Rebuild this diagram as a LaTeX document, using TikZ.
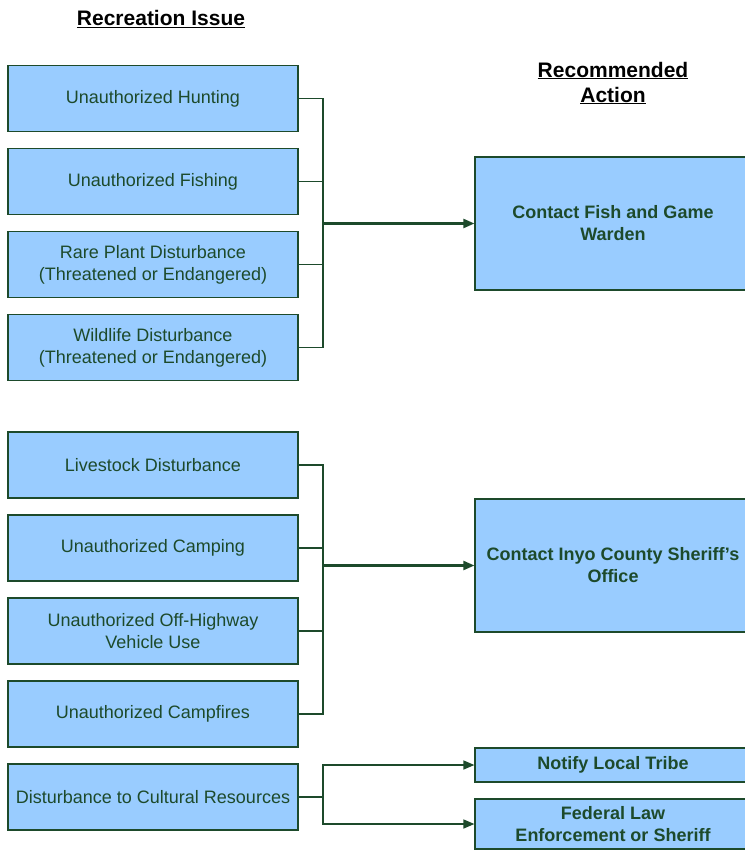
\documentclass[tikz,border=0pt]{standalone}
\usepackage{fontspec}
\setmainfont{Liberation Sans}
\usetikzlibrary{arrows.meta,positioning}
\definecolor{boxfill}{HTML}{99CCFF}
\definecolor{darkgreen}{HTML}{1D4A2B}

\begin{document}
\begin{tikzpicture}[x=1pt, y=1pt, node distance=83pt,
  issue/.style={draw=darkgreen, fill=boxfill, text=darkgreen, line width=1.2pt,
                minimum width=290pt, minimum height=66pt, inner sep=0pt,
                align=center, font=\fontsize{18}{22}\selectfont},
  action/.style={draw=darkgreen, fill=boxfill, text=darkgreen, line width=1.2pt,
                 minimum width=276pt, inner sep=0pt,
                 align=center, font=\fontsize{18}{22}\selectfont\bfseries},
  heading/.style={font=\fontsize{21}{25}\selectfont\bfseries, align=center},
  link/.style={draw=darkgreen, line width=1.5pt},
  tip/.style={-{Triangle[length=11pt,width=9pt]}}]
  \useasboundingbox (0,0) rectangle (744,-850);

  \node (issuehead)  [heading] at (161,-19) {\underline{Recreation Issue}};
  \node (actionhead) [heading] at (613,-83) {\underline{Recommended}\\\underline{Action}};

  % first group
  \node (hunt)  [issue] at (153,-98.5) {Unauthorized Hunting};
  \node (fish)  [issue, below of=hunt]  {Unauthorized Fishing};
  \node (plant) [issue, below of=fish]  {Rare Plant Disturbance\\(Threatened or Endangered)};
  \node (wild)  [issue, below of=plant] {Wildlife Disturbance\\(Threatened or Endangered)};

  % second group
  \node (stock)  [issue] at (153,-465) {Livestock Disturbance};
  \node (camp)   [issue, below of=stock] {Unauthorized Camping};
  \node (ohv)    [issue, below of=camp]  {Unauthorized Off-Highway\\Vehicle Use};
  \node (fire)   [issue, below of=ohv]   {Unauthorized Campfires};
  \node (cult)   [issue, below of=fire]  {Disturbance to Cultural Resources};

  % actions
  \node (warden)  [action, minimum height=133pt] at (613,-223.5) {Contact Fish and Game\\Warden};
  \node (sheriff) [action, minimum height=133pt] at (613,-565.5) {Contact Inyo County Sheriff’s\\Office};
  \node (tribe)   [action, minimum height=34pt]  at (613,-765)   {Notify Local Tribe};
  \node (federal) [action, minimum height=50pt]  at (613,-824)   {Federal Law\\Enforcement or Sheriff};

  \coordinate (busa) at (323,-223.5);
  \coordinate (busb) at (323,-565.5);
  \coordinate (busc) at (cult.east -| busa);

  \draw[link] (hunt.east)  -| (busa);
  \draw[link] (fish.east)  -- (fish.east -| busa);
  \draw[link] (plant.east) -- (plant.east -| busa);
  \draw[link] (wild.east)  -| (busa);
  \draw[link, tip, line width=2.2pt] (busa) -- (warden.west);

  \draw[link] (stock.east) -| (busb);
  \draw[link] (camp.east)  -- (camp.east -| busb);
  \draw[link] (ohv.east)   -- (ohv.east -| busb);
  \draw[link] (fire.east)  -| (busb);
  \draw[link, tip, line width=2.2pt] (busb) -- (sheriff.west);

  \draw[link] (cult.east) -- (busc);
  \draw[link, tip] (busc) |- (tribe.west);
  \draw[link, tip] (busc) |- (federal.west);
\end{tikzpicture}
\end{document}
